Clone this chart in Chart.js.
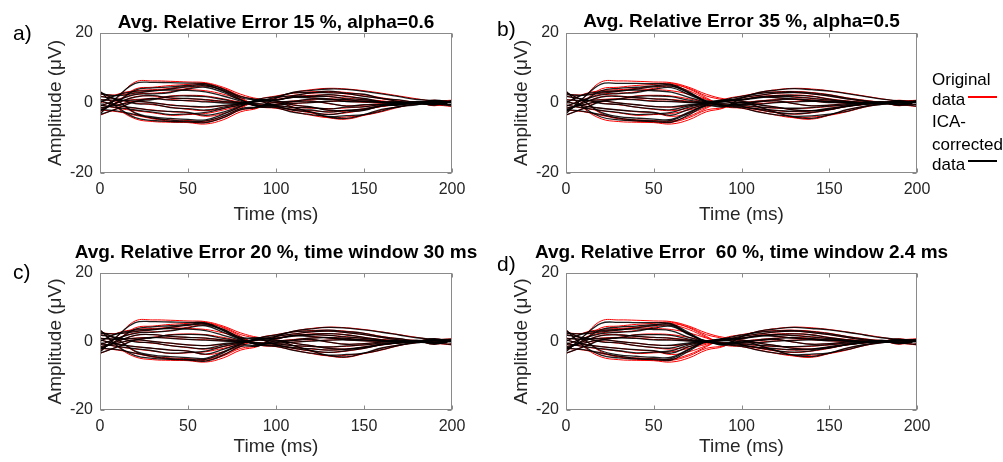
<!DOCTYPE html>
<html lang="en">
<head>
<meta charset="UTF-8">
<title>ICA correction</title>
<script src="https://cdn.jsdelivr.net/npm/chart.js"></script>
<style>
  body { margin: 0; background: #fff; }
  #wrap { position: relative; width: 1003px; height: 462px; overflow: hidden; }
  canvas { position: absolute; }
</style>
</head>
<body>
<div id="wrap">
  <canvas id="chartA" style="left:0;top:0" width="480" height="230"></canvas>
  <canvas id="chartB" style="left:466px;top:0" width="537" height="230"></canvas>
  <canvas id="chartC" style="left:0;top:230px" width="480" height="232"></canvas>
  <canvas id="chartD" style="left:466px;top:230px" width="537" height="232"></canvas>
</div>
<script>
// time axis (ms)
const times = [0, 10, 20, 30, 40, 50, 60, 70, 80, 90, 100, 110, 120, 130, 140, 150, 160, 170, 180, 190, 200];

// original data, one row per channel (uV)
const original = [
  [-3.0, 1.5, 6.0, 6.3, 6.2, 6.0, 5.8, 4.5, 2.5, 1.2, 0.8, 1.8, 1.5, 1.0, 0.5, 0.2, 0.0, 0.0, 0.2, 0.3, 0.0],
  [-2.5, 0.5, 4.0, 4.5, 5.0, 5.3, 5.6, 4.0, 1.5, -1.0, -1.5, -2.5, -3.5, -4.2, -4.0, -3.5, -2.5, -1.2, -0.3, 0.2, -0.2],
  [3.5, -1.5, -4.5, -5.3, -5.5, -5.6, -6.0, -4.8, -2.5, -1.4, 1.5, 3.0, 3.8, 4.2, 4.0, 3.5, 2.8, 2.0, 1.2, 0.5, 0.2],
  [3.0, 0.5, -3.0, -4.3, -4.8, -5.0, -5.2, -3.8, -1.5, 1.0, 2.0, 2.8, 3.2, 3.3, 3.0, 2.4, 1.5, 0.8, 0.3, 0.5, 0.8],
  [2.0, 1.0, 0.0, -0.5, -1.2, -1.8, -2.2, -1.5, -0.5, 0.6, 1.0, 1.8, 2.2, 2.3, 2.0, 1.2, 0.6, 0.2, 0.0, -0.4, 0.0],
  [0.0, 2.5, 3.5, 3.8, 4.0, 3.8, 3.5, 2.5, 1.0, -0.8, -1.2, -1.8, -2.2, -2.5, -2.3, -1.6, -0.9, -0.4, 0.0, 0.5, -0.6],
  [-1.0, 1.0, 2.5, 2.8, 3.2, 4.2, 4.8, 3.5, 1.2, -0.5, -0.8, -1.2, -1.5, -1.6, -1.4, -1.0, -0.6, -0.3, 0.1, -0.2, 0.3],
  [1.0, 0.6, 1.0, 1.2, 1.0, 0.6, 0.5, 0.2, 0.0, -0.3, -0.5, -0.2, 0.2, 0.4, 0.6, 0.5, 0.3, 0.0, 0.2, 0.6, 0.4],
  [-0.5, -1.5, -2.2, -2.8, -3.5, -3.3, -3.0, -2.0, -0.8, 0.8, 1.0, 1.6, 2.0, 1.8, 1.4, 0.9, 0.5, 0.2, -0.1, -0.5, -1.0],
  [-2.0, -2.5, -3.5, -4.5, -5.2, -5.5, -5.5, -4.2, -2.0, -1.3, 0.2, -1.2, -2.8, -4.2, -4.6, -3.5, -2.0, -1.0, -0.3, 0.0, 0.5],
  [-3.5, -1.5, 0.5, 1.2, 2.0, 2.2, 2.0, 1.2, 0.3, 0.4, 0.2, 0.6, 1.0, 1.2, 0.9, 0.5, 0.2, 0.0, 0.0, -0.6, -0.3],
  [2.5, 2.3, 3.0, 3.5, 4.2, 4.8, 5.2, 4.2, 2.0, 0.8, -1.0, -2.0, -2.8, -3.2, -2.8, -2.0, -1.0, -0.4, 0.0, 0.3, 0.6],
  [-1.5, -0.5, 0.5, 0.0, -0.5, -1.0, -1.2, -0.8, -0.3, 0.5, 1.5, 2.2, 2.8, 3.0, 2.6, 2.0, 1.2, 0.5, 0.0, -0.3, 0.5],
  [0.5, -0.8, -1.5, -2.0, -2.5, -2.8, -3.8, -3.0, -1.2, 0.8, 0.5, -0.5, -1.2, -2.0, -2.2, -1.8, -1.0, -0.4, 0.0, 0.8, -0.2],
  [-2.0, 0.0, 1.8, 2.0, 1.5, 1.2, 1.0, 0.5, 0.0, -0.8, -0.3, 0.3, 0.6, -0.2, -0.8, -0.6, -0.2, 0.0, 0.3, -0.8, 0.6]
];

// ICA-corrected data, panel a (alpha=0.6)
const correctedA = [
  [-3.2, 1.8, 5.6, 5.9, 5.8, 5.7, 5.5, 4.0, 1.8, 1.0, 0.9, 1.6, 1.4, 1.2, 0.4, 0.3, 0.1, -0.2, 0.4, 0.0, 0.3],
  [-2.3, 0.3, 3.7, 4.3, 4.6, 5.0, 5.2, 3.4, 1.0, -1.1, -1.3, -2.7, -3.3, -3.9, -3.6, -3.3, -2.3, -1.0, -0.5, 0.4, -0.1],
  [3.3, -1.2, -4.2, -5.0, -5.3, -5.4, -5.6, -4.2, -1.9, -1.2, 1.3, 3.1, 3.6, 4.0, 3.9, 3.3, 2.6, 1.8, 1.0, 0.7, 0.0],
  [3.1, 0.7, -2.8, -4.0, -4.4, -4.7, -4.8, -3.2, -1.0, 1.1, 1.8, 2.9, 3.0, 3.4, 2.8, 2.5, 1.3, 0.9, 0.1, 0.6, 0.5],
  [1.8, 1.2, -0.2, -0.3, -1.3, -1.6, -2.0, -1.2, -0.2, 0.7, 0.8, 1.9, 2.0, 2.4, 1.8, 1.3, 0.4, 0.3, -0.2, -0.2, 0.2],
  [0.2, 2.3, 3.3, 3.6, 3.7, 3.6, 3.2, 2.0, 0.5, -0.9, -1.0, -1.9, -2.0, -2.6, -2.1, -1.7, -0.7, -0.5, 0.2, 0.3, -0.4],
  [-0.8, 0.8, 2.4, 2.6, 3.0, 4.0, 4.5, 3.0, 0.8, -0.6, -0.7, -1.3, -1.3, -1.7, -1.2, -1.1, -0.4, -0.4, 0.3, -0.4, 0.1],
  [0.9, 0.8, 0.8, 1.3, 0.8, 0.7, 0.3, 0.0, -0.2, -0.2, -0.6, -0.1, 0.1, 0.5, 0.5, 0.6, 0.2, 0.1, 0.0, 0.8, 0.2],
  [-0.6, -1.3, -2.0, -2.6, -3.3, -3.1, -2.7, -1.6, -0.5, 0.9, 0.9, 1.7, 1.8, 1.9, 1.2, 1.0, 0.3, 0.3, -0.3, -0.3, -0.8],
  [-1.8, -2.3, -3.3, -4.3, -4.9, -5.2, -5.1, -3.7, -1.6, -1.1, 0.1, -1.3, -2.6, -4.0, -4.4, -3.3, -1.8, -1.1, -0.1, -0.2, 0.3],
  [-3.3, -1.6, 0.4, 1.0, 1.9, 2.0, 1.8, 1.0, 0.1, 0.5, 0.3, 0.5, 1.1, 1.0, 1.0, 0.4, 0.3, -0.1, 0.2, -0.4, -0.5],
  [2.6, 2.1, 2.8, 3.4, 4.0, 4.6, 4.9, 3.7, 1.5, 0.7, -0.9, -2.1, -2.6, -3.3, -2.6, -2.1, -0.8, -0.5, 0.2, 0.1, 0.4],
  [-1.4, -0.6, 0.4, 0.1, -0.6, -0.9, -1.1, -0.7, -0.2, 0.4, 1.6, 2.1, 2.9, 2.9, 2.7, 1.9, 1.3, 0.4, 0.1, -0.5, 0.6],
  [0.6, -0.7, -1.4, -2.1, -2.4, -2.7, -3.5, -2.6, -0.9, 0.7, 0.6, -0.6, -1.1, -2.1, -2.1, -1.9, -0.9, -0.5, 0.1, 0.6, -0.3],
  [-1.9, 0.1, 1.7, 2.1, 1.4, 1.3, 0.9, 0.4, 0.1, -0.7, -0.4, 0.4, 0.5, -0.1, -0.9, -0.5, -0.3, 0.1, 0.2, -0.6, 0.7]
];

// ICA-corrected data, panel b (alpha=0.5)
const correctedB = [
  [-3.0, 1.5, 5.4, 5.6, 5.6, 5.5, 5.3, 3.2, 0.6, 0.9, 1.0, 1.7, 1.5, 1.1, 0.6, 0.1, 0.2, -0.1, 0.3, 0.1, 0.2],
  [-2.4, 0.4, 3.5, 4.2, 4.5, 4.9, 5.1, 2.8, 0.3, -0.9, -1.4, -2.6, -3.4, -3.8, -3.7, -3.2, -2.4, -1.1, -0.4, 0.3, 0.0],
  [3.4, -1.3, -4.0, -4.8, -5.1, -5.3, -5.5, -3.4, -0.8, -1.1, 1.4, 3.0, 3.7, 4.1, 3.8, 3.4, 2.7, 1.9, 1.1, 0.6, 0.1],
  [3.0, 0.6, -2.7, -3.9, -4.3, -4.6, -4.7, -2.6, -0.5, 0.9, 1.9, 2.7, 3.1, 3.2, 2.9, 2.3, 1.4, 0.7, 0.2, 0.4, 0.6],
  [1.9, 1.1, -0.1, -0.4, -1.2, -1.7, -1.9, -0.8, 0.0, 0.5, 0.9, 1.7, 2.1, 2.2, 1.9, 1.1, 0.5, 0.1, -0.1, -0.3, 0.1],
  [0.1, 2.4, 3.2, 3.5, 3.7, 3.5, 3.1, 1.6, 0.2, -0.7, -1.1, -1.7, -2.1, -2.4, -2.2, -1.5, -0.8, -0.3, 0.1, 0.4, -0.5],
  [-0.9, 0.9, 2.3, 2.7, 3.0, 3.9, 4.4, 2.4, 0.4, -0.6, -0.7, -1.1, -1.4, -1.5, -1.3, -0.9, -0.5, -0.2, 0.2, -0.3, 0.2],
  [0.9, 0.7, 0.9, 1.1, 0.9, 0.5, 0.4, 0.1, -0.1, -0.2, -0.4, -0.3, 0.1, 0.3, 0.5, 0.4, 0.2, -0.1, 0.1, 0.5, 0.3],
  [-0.6, -1.4, -2.1, -2.7, -3.3, -3.1, -2.7, -1.2, -0.2, 0.7, 0.9, 1.5, 1.9, 1.7, 1.3, 0.8, 0.4, 0.1, -0.2, -0.4, -0.9],
  [-1.9, -2.4, -3.3, -4.3, -4.9, -5.1, -5.0, -2.9, -0.6, -1.0, 0.1, -1.1, -2.7, -4.0, -4.4, -3.4, -1.9, -0.9, -0.2, 0.1, 0.4],
  [-3.4, -1.6, 0.4, 1.1, 1.9, 2.0, 1.8, 0.8, 0.1, 0.3, 0.1, 0.5, 0.9, 1.1, 0.8, 0.4, 0.1, -0.1, 0.1, -0.5, -0.2],
  [2.4, 2.2, 2.8, 3.3, 4.0, 4.6, 4.8, 2.9, 0.5, 0.6, -0.9, -1.9, -2.7, -3.1, -2.7, -1.9, -0.9, -0.3, 0.1, 0.2, 0.5],
  [-1.5, -0.5, 0.5, 0.0, -0.5, -1.0, -1.1, -0.5, -0.1, 0.4, 1.5, 2.2, 2.8, 3.0, 2.6, 2.0, 1.2, 0.5, 0.0, -0.3, 0.5],
  [0.5, -0.8, -1.5, -2.0, -2.4, -2.7, -3.5, -1.8, -0.3, 0.6, 0.5, -0.5, -1.2, -2.0, -2.2, -1.8, -1.0, -0.4, 0.0, 0.7, -0.2],
  [-2.0, 0.0, 1.7, 1.9, 1.5, 1.2, 0.9, 0.3, 0.0, -0.6, -0.3, 0.3, 0.6, -0.2, -0.8, -0.6, -0.2, 0.0, 0.3, -0.7, 0.6]
];

// ICA-corrected data, panel c (time window 30 ms)
const correctedC = [
  [-3.1, 1.7, 5.5, 5.8, 5.7, 5.6, 5.4, 3.6, 1.2, 1.1, 0.9, 1.7, 1.4, 1.1, 0.5, 0.2, 0.1, -0.1, 0.3, 0.2, 0.1],
  [-2.4, 0.4, 3.6, 4.3, 4.6, 5.0, 5.3, 3.2, 0.7, -1.0, -1.4, -2.6, -3.4, -4.0, -3.8, -3.4, -2.4, -1.1, -0.4, 0.3, -0.1],
  [3.4, -1.3, -4.1, -4.9, -5.2, -5.4, -5.7, -4.0, -1.4, -1.3, 1.4, 3.0, 3.7, 4.1, 3.9, 3.4, 2.7, 1.9, 1.1, 0.6, 0.1],
  [3.0, 0.6, -2.8, -4.0, -4.4, -4.7, -4.9, -3.0, -0.8, 1.0, 1.9, 2.8, 3.1, 3.3, 2.9, 2.4, 1.4, 0.8, 0.2, 0.5, 0.7],
  [1.9, 1.1, -0.1, -0.4, -1.2, -1.7, -2.1, -1.0, -0.1, 0.6, 0.9, 1.8, 2.1, 2.3, 1.9, 1.2, 0.5, 0.2, -0.1, -0.3, 0.1],
  [0.1, 2.4, 3.3, 3.6, 3.8, 3.6, 3.2, 1.8, 0.4, -0.8, -1.1, -1.8, -2.1, -2.5, -2.2, -1.6, -0.8, -0.4, 0.1, 0.4, -0.5],
  [-0.9, 0.9, 2.4, 2.7, 3.1, 4.0, 4.6, 2.7, 0.6, -0.5, -0.7, -1.2, -1.4, -1.6, -1.3, -1.0, -0.5, -0.3, 0.2, -0.3, 0.2],
  [0.9, 0.7, 0.9, 1.2, 0.9, 0.6, 0.4, 0.1, -0.1, -0.3, -0.5, -0.2, 0.1, 0.4, 0.5, 0.5, 0.2, 0.0, 0.1, 0.5, 0.3],
  [-0.6, -1.4, -2.1, -2.7, -3.4, -3.2, -2.8, -1.4, -0.4, 0.8, 0.9, 1.6, 1.9, 1.8, 1.3, 0.9, 0.4, 0.2, -0.2, -0.4, -0.9],
  [-1.9, -2.4, -3.4, -4.4, -5.0, -5.2, -5.2, -3.3, -1.0, -1.2, 0.1, -1.2, -2.7, -4.1, -4.5, -3.4, -1.9, -1.0, -0.2, 0.1, 0.4],
  [-3.4, -1.6, 0.4, 1.1, 1.9, 2.1, 1.9, 0.9, 0.2, 0.4, 0.2, 0.5, 1.0, 1.1, 0.9, 0.4, 0.2, 0.0, 0.1, -0.5, -0.2],
  [2.4, 2.2, 2.9, 3.4, 4.1, 4.7, 5.0, 3.3, 0.9, 0.8, -0.9, -2.0, -2.7, -3.2, -2.7, -2.0, -0.9, -0.4, 0.1, 0.2, 0.5],
  [-1.5, -0.5, 0.5, 0.0, -0.5, -1.0, -1.2, -0.6, -0.2, 0.5, 1.5, 2.2, 2.8, 3.0, 2.6, 2.0, 1.2, 0.5, 0.0, -0.3, 0.5],
  [0.5, -0.8, -1.5, -2.0, -2.5, -2.8, -3.7, -2.3, -0.6, 0.7, 0.5, -0.5, -1.2, -2.0, -2.2, -1.8, -1.0, -0.4, 0.0, 0.8, -0.2],
  [-2.0, 0.0, 1.8, 2.0, 1.5, 1.2, 1.0, 0.4, 0.0, -0.7, -0.3, 0.3, 0.6, -0.2, -0.8, -0.6, -0.2, 0.0, 0.3, -0.8, 0.6]
];

// ICA-corrected data, panel d (time window 2.4 ms)
const correctedD = [
  [-3.0, 1.5, 5.3, 5.6, 5.5, 5.5, 5.2, 2.6, 0.2, 0.8, 1.0, 1.7, 1.5, 1.0, 0.6, 0.2, 0.2, -0.1, 0.3, 0.1, 0.2],
  [-2.4, 0.4, 3.5, 4.2, 4.5, 4.9, 5.0, 2.2, -0.1, -0.9, -1.4, -2.6, -3.4, -3.9, -3.7, -3.3, -2.4, -1.1, -0.4, 0.3, 0.0],
  [3.4, -1.3, -4.0, -4.8, -5.1, -5.3, -5.4, -2.8, -0.2, -1.0, 1.4, 3.0, 3.7, 4.1, 3.8, 3.4, 2.7, 1.9, 1.1, 0.6, 0.1],
  [3.0, 0.6, -2.7, -3.9, -4.3, -4.6, -4.6, -2.2, 0.0, 0.9, 1.9, 2.7, 3.1, 3.2, 2.9, 2.3, 1.4, 0.7, 0.2, 0.4, 0.6],
  [1.9, 1.1, -0.1, -0.4, -1.2, -1.7, -1.9, -0.6, 0.1, 0.5, 0.9, 1.7, 2.1, 2.2, 1.9, 1.1, 0.5, 0.1, -0.1, -0.3, 0.1],
  [0.1, 2.4, 3.2, 3.5, 3.7, 3.5, 3.1, 1.2, -0.1, -0.7, -1.1, -1.7, -2.1, -2.4, -2.2, -1.5, -0.8, -0.3, 0.1, 0.4, -0.5],
  [-0.9, 0.9, 2.3, 2.7, 3.0, 3.9, 4.4, 2.0, 0.1, -0.5, -0.7, -1.1, -1.4, -1.5, -1.3, -0.9, -0.5, -0.2, 0.2, -0.3, 0.2],
  [0.9, 0.7, 0.9, 1.1, 0.9, 0.5, 0.4, 0.1, -0.1, -0.2, -0.4, -0.3, 0.1, 0.3, 0.5, 0.4, 0.2, -0.1, 0.1, 0.5, 0.3],
  [-0.6, -1.4, -2.1, -2.7, -3.3, -3.1, -2.7, -1.0, 0.1, 0.7, 0.9, 1.5, 1.9, 1.7, 1.3, 0.8, 0.4, 0.1, -0.2, -0.4, -0.9],
  [-1.9, -2.4, -3.3, -4.3, -4.9, -5.1, -5.0, -2.4, 0.0, -1.0, 0.1, -1.1, -2.7, -4.0, -4.4, -3.4, -1.9, -0.9, -0.2, 0.1, 0.4],
  [-3.4, -1.6, 0.4, 1.1, 1.9, 2.0, 1.8, 0.7, 0.0, 0.3, 0.1, 0.5, 0.9, 1.1, 0.8, 0.4, 0.1, -0.1, 0.1, -0.5, -0.2],
  [2.4, 2.2, 2.8, 3.3, 4.0, 4.6, 4.7, 2.2, 0.1, 0.6, -0.9, -1.9, -2.7, -3.1, -2.7, -1.9, -0.9, -0.3, 0.1, 0.2, 0.5],
  [-1.5, -0.5, 0.5, 0.0, -0.5, -1.0, -1.1, -0.4, 0.0, 0.4, 1.5, 2.2, 2.8, 3.0, 2.6, 2.0, 1.2, 0.5, 0.0, -0.3, 0.5],
  [0.5, -0.8, -1.5, -2.0, -2.4, -2.7, -3.4, -1.5, 0.0, 0.6, 0.5, -0.5, -1.2, -2.0, -2.2, -1.8, -1.0, -0.4, 0.0, 0.7, -0.2],
  [-2.0, 0.0, 1.7, 1.9, 1.5, 1.2, 0.9, 0.3, 0.0, -0.6, -0.3, 0.3, 0.6, -0.2, -0.8, -0.6, -0.2, 0.0, 0.3, -0.7, 0.6]
];

const panelLabels = ['a)', 'b)', 'c)', 'd)'];
const panelTitles = [
  'Avg. Relative Error 15 %, alpha=0.6',
  'Avg. Relative Error 35 %, alpha=0.5',
  'Avg. Relative Error 20 %, time window 30 ms',
  'Avg. Relative Error  60 %, time window 2.4 ms'
];
const legendLines = ['Original', 'data', 'ICA-', 'corrected', 'data'];

const FONT = '"Liberation Sans", Arial, sans-serif';
const RED = '#ff0000';
const BLACK = 'rgba(0,0,0,0.88)';

// frame, inward ticks, title, panel letter, legend
const framePlugin = {
  id: 'frame',
  afterDraw(chart, args, opts) {
    const { ctx, chartArea: a, scales: { x, y } } = chart;
    ctx.save();
    ctx.strokeStyle = '#8a8a8a';
    ctx.lineWidth = 1;
    const l = Math.round(a.left) + 0.5, t = Math.round(a.top) + 0.5;
    const r = Math.round(a.right) - 0.5, b = Math.round(a.bottom) - 0.5;
    ctx.strokeRect(l, t, r - l, b - t);
    ctx.beginPath();
    x.ticks.forEach(tk => {
      const px = Math.round(x.getPixelForValue(tk.value)) + 0.5;
      ctx.moveTo(px, b); ctx.lineTo(px, b - 4);
      ctx.moveTo(px, t); ctx.lineTo(px, t + 4);
    });
    y.ticks.forEach(tk => {
      const py = Math.round(y.getPixelForValue(tk.value)) + 0.5;
      ctx.moveTo(l, py); ctx.lineTo(l + 4, py);
      ctx.moveTo(r, py); ctx.lineTo(r - 4, py);
    });
    ctx.stroke();

    ctx.fillStyle = '#000';
    ctx.font = 'bold 19px ' + FONT;
    ctx.textAlign = 'center';
    ctx.textBaseline = 'middle';
    ctx.fillText(opts.title, (a.left + a.right) / 2, opts.titleY);

    ctx.font = '21px ' + FONT;
    ctx.textAlign = 'left';
    ctx.textBaseline = 'alphabetic';
    ctx.fillText(opts.label, opts.labelX, opts.labelY);

    if (opts.legend) {
      ctx.font = '17px ' + FONT;
      const baselines = [85, 105, 127, 150, 170];
      legendLines.forEach((s, i) => ctx.fillText(s, 466, baselines[i]));
      ctx.lineWidth = 2;
      ctx.strokeStyle = RED;
      ctx.beginPath(); ctx.moveTo(502, 97); ctx.lineTo(531, 97); ctx.stroke();
      ctx.strokeStyle = '#000';
      ctx.beginPath(); ctx.moveTo(502, 161); ctx.lineTo(531, 161); ctx.stroke();
    }
    ctx.restore();
  }
};

function toPoints(values) {
  return values.map((v, i) => ({ x: times[i], y: v }));
}

function makePanel(id, idx, corrected, cfg) {
  const datasets = [];
  // first datasets are drawn on top, so the corrected (black) traces go first
  corrected.forEach(ch => datasets.push({
    data: toPoints(ch), borderColor: BLACK, borderWidth: 1.3, pointRadius: 0, tension: 0.4
  }));
  original.forEach(ch => datasets.push({
    data: toPoints(ch), borderColor: RED, borderWidth: 1, pointRadius: 0, tension: 0.4
  }));

  new Chart(document.getElementById(id), {
    type: 'line',
    data: { datasets },
    plugins: [framePlugin],
    options: {
      responsive: false,
      animation: false,
      devicePixelRatio: 1,
      layout: { padding: { top: cfg.padTop, right: cfg.padRight, left: 0, bottom: 0 } },
      plugins: {
        legend: { display: false },
        tooltip: { enabled: false },
        frame: {
          title: panelTitles[idx], titleY: cfg.titleY,
          label: panelLabels[idx], labelX: cfg.labelX, labelY: cfg.labelY,
          legend: !!cfg.legend
        }
      },
      scales: {
        x: {
          type: 'linear', min: 0, max: 200,
          grid: { display: false, drawTicks: false },
          border: { display: false },
          ticks: { stepSize: 50, color: '#262626', font: { family: FONT, size: 16 }, padding: 7, maxRotation: 0 },
          title: { display: true, text: 'Time (ms)', color: '#262626', font: { family: FONT, size: 19 }, padding: { top: 0, bottom: 3.6 } },
          afterFit(s) { s.height = cfg.xHeight; }
        },
        y: {
          type: 'linear', min: -20, max: 20,
          grid: { display: false, drawTicks: false },
          border: { display: false },
          ticks: { stepSize: 20, color: '#262626', font: { family: FONT, size: 16 }, padding: 7 },
          title: { display: true, text: 'Amplitude (μV)', color: '#262626', font: { family: FONT, size: 19 }, padding: { top: 44, bottom: 0 } },
          afterFit(s) { s.width = 100; }
        }
      }
    }
  });
}

makePanel('chartA', 0, correctedA, { padTop: 33, padRight: 28, xHeight: 57, titleY: 23, labelX: 13, labelY: 40 });
makePanel('chartB', 1, correctedB, { padTop: 33, padRight: 86, xHeight: 57, titleY: 22, labelX: 31, labelY: 36, legend: true });
makePanel('chartC', 2, correctedC, { padTop: 43, padRight: 28, xHeight: 52, titleY: 23, labelX: 13, labelY: 49 });
makePanel('chartD', 3, correctedD, { padTop: 43, padRight: 86, xHeight: 52, titleY: 23, labelX: 31, labelY: 41 });
</script>
</body>
</html>
